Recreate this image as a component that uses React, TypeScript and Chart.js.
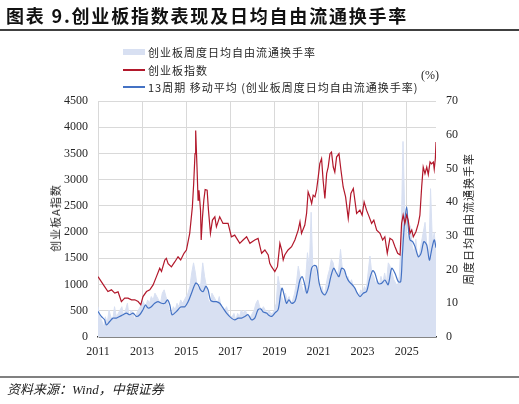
import React, { useEffect, useRef } from 'react';
import { Chart, registerables } from 'chart.js';

Chart.register(...registerables);

const TITLE = '图表 9.创业板指数表现及日均自由流通换手率';
const LEGEND_TURNOVER = '创业板周度日均自由流通换手率';
const LEGEND_INDEX = '创业板指数';
const LEGEND_MA = '13周期 移动平均 (创业板周度日均自由流通换手率)';
const LEFT_TITLE = '创业板A指数';
const RIGHT_TITLE = '周度日均自由流通换手率';
const UNIT = '(%)';
const SOURCE = '资料来源：Wind，中银证券';

const yearTicks = [2011, 2013, 2015, 2017, 2019, 2021, 2023, 2025];
const xMin = 2011;
const xMax = 2026.33;
const leftMax = 4500;
const leftStep = 500;
const rightMax = 70;
const rightStep = 10;

const indexYears = [
  2011.0, 2011.15, 2011.3, 2011.45, 2011.61, 2011.76, 2011.91, 2012.06, 2012.21, 2012.36, 2012.52, 2012.67, 2012.82, 2012.94,
  2013.04, 2013.2, 2013.35, 2013.5, 2013.65, 2013.8, 2013.88, 2014.03, 2014.1, 2014.18, 2014.33, 2014.48, 2014.63, 2014.75, 2014.9,
  2015.01, 2015.16, 2015.28, 2015.34, 2015.4, 2015.43, 2015.49, 2015.54, 2015.58, 2015.65, 2015.68, 2015.74, 2015.8, 2015.86, 2015.95,
  2016.01, 2016.1, 2016.19, 2016.3, 2016.37, 2016.52, 2016.67, 2016.9, 2017.05, 2017.2, 2017.43, 2017.58, 2017.74, 2017.89,
  2018.11, 2018.26, 2018.42, 2018.57, 2018.72, 2018.79, 2018.87, 2019.02, 2019.14, 2019.25, 2019.33, 2019.4, 2019.47, 2019.62, 2019.78, 2019.93,
  2020.08, 2020.16, 2020.23, 2020.38, 2020.46, 2020.53, 2020.61, 2020.69, 2020.76, 2020.84, 2020.91, 2020.99,
  2021.06, 2021.14, 2021.21, 2021.29, 2021.37, 2021.44, 2021.52, 2021.59, 2021.67, 2021.74, 2021.82, 2021.93,
  2022.02, 2022.12, 2022.23, 2022.35, 2022.47, 2022.58, 2022.73, 2022.88, 2022.98,
  2023.07, 2023.18, 2023.3, 2023.41, 2023.51, 2023.64, 2023.79, 2023.91,
  2024.01, 2024.12, 2024.24, 2024.36, 2024.47, 2024.59, 2024.7, 2024.77, 2024.84, 2024.92,
  2025.0, 2025.07, 2025.15, 2025.23, 2025.3, 2025.42, 2025.53, 2025.6, 2025.68, 2025.75, 2025.83, 2025.91, 2025.98,
  2026.06, 2026.13, 2026.21, 2026.25, 2026.3, 2026.33,
];
const indexValues = [
  1151, 1056, 961, 866, 899, 836, 860, 676, 741, 740, 709, 709, 676, 614,
  771, 866, 899, 994, 1151, 1311, 1250, 1469, 1500, 1400, 1337, 1431, 1530, 1469, 1596,
  1659, 1976, 2481, 2926, 3496, 3939, 3241, 2609, 2799, 2419, 1849, 2291, 2609, 2812, 2799,
  2419, 1976, 2229, 2291, 2101, 2291, 2166, 2166, 1911, 1943, 1786, 1849, 1911, 1786,
  1849, 1880, 1596, 1659, 1564, 1406, 1341, 1246, 1341, 1786, 1659, 1469, 1564, 1659, 1722, 1849,
  2039, 2197, 1976, 2134, 2356, 2767, 2672, 2546, 2704, 2672, 2799, 3052,
  3306, 3401, 2989, 2641, 3116, 3241, 3496, 3526, 3241, 3146, 3431, 3496,
  3179, 2861, 2671, 2261, 2736, 2831, 2356, 2419, 2324,
  2576, 2419, 2291, 2166, 2229, 2039, 1976, 1849,
  1911, 1596, 1881, 1849, 1722, 1596, 1564, 2166, 2324, 2166,
  2324, 2229, 1976, 2039, 1911, 2008, 2166, 2324, 2861, 3241, 3116, 3241, 3100,
  3336, 3300, 3336, 3200, 3400, 3716,
];

const maYears = [
  2011.0, 2011.15, 2011.3, 2011.38, 2011.53, 2011.68, 2011.83, 2011.98, 2012.14, 2012.29, 2012.44, 2012.59, 2012.74, 2012.89,
  2013.04, 2013.15, 2013.27, 2013.42, 2013.57, 2013.72, 2013.88, 2014.03, 2014.15, 2014.26, 2014.36, 2014.56, 2014.75, 2014.94,
  2015.09, 2015.24, 2015.43, 2015.54, 2015.65, 2015.77, 2015.89, 2015.99, 2016.1, 2016.22, 2016.37, 2016.52, 2016.67, 2016.83,
  2017.05, 2017.2, 2017.36, 2017.51, 2017.66, 2017.81, 2017.96, 2018.11, 2018.26, 2018.39, 2018.49, 2018.64, 2018.72, 2018.87,
  2019.02, 2019.17, 2019.29, 2019.35, 2019.44, 2019.55, 2019.66, 2019.78, 2019.93,
  2020.05, 2020.16, 2020.26, 2020.38, 2020.47, 2020.56, 2020.69, 2020.8, 2020.91,
  2021.02, 2021.14, 2021.29, 2021.44, 2021.56, 2021.69, 2021.82, 2021.93,
  2022.05, 2022.17, 2022.27, 2022.39, 2022.53, 2022.65, 2022.76, 2022.88,
  2023.03, 2023.18, 2023.33, 2023.46, 2023.56, 2023.71, 2023.86,
  2024.01, 2024.16, 2024.32, 2024.47, 2024.62, 2024.73, 2024.8, 2024.89,
  2025.0, 2025.07, 2025.15, 2025.27, 2025.38, 2025.53, 2025.65, 2025.78, 2025.91,
  2026.03, 2026.13, 2026.25, 2026.33,
];
const maValues = [
  7.6, 6.1, 5.1, 3.6, 4.6, 5.6, 5.6, 6.1, 6.6, 7.1, 6.6, 7.1, 6.1, 6.6,
  8.1, 9.5, 8.6, 9.0, 10.0, 10.5, 10.0, 10.0, 11.0, 9.5, 6.6, 7.6, 8.9, 9.0,
  10.5, 13.0, 16.0, 15.5, 14.0, 13.5, 15.0, 14.0, 11.0, 10.5, 10.5, 10.0, 8.6, 7.1,
  5.6, 5.1, 5.6, 5.6, 6.1, 6.6, 5.1, 5.6, 8.1, 8.3, 7.4, 7.1, 6.6, 6.1,
  7.1, 8.1, 13.0, 14.5, 12.5, 10.0, 11.0, 10.0, 10.5,
  13.5, 16.9, 17.9, 15.5, 13.0, 15.0, 20.4, 21.2, 20.9,
  16.4, 13.5, 12.5, 14.5, 17.9, 20.4, 18.9, 17.9,
  20.4, 19.9, 17.9, 16.4, 15.5, 14.5, 13.0, 12.0,
  13.0, 13.5, 17.4, 19.7, 18.9, 15.9, 15.9,
  16.9, 15.5, 20.4, 18.9, 16.4, 16.4, 23.8, 32.7,
  38.6, 32.7, 28.8, 28.3, 26.8, 23.8, 24.8, 28.3, 27.3,
  22.8, 25.8, 28.8, 26.5,
];

// monthly readings of the weekly turnover, starting Jan 2011
const turnoverStart = 2011;
const turnoverValues = [
  9, 6, 5, 3, 6, 4, 8, 6, 5, 9, 6, 7,
  8, 9, 6, 8, 10, 6, 8, 7, 5, 7, 8, 9,
  11, 10, 9, 11, 10, 12, 11, 13, 12, 11, 10, 13,
  14, 12, 10, 7, 7, 9, 8, 10, 9, 11, 10, 11,
  12, 13, 15, 19, 22, 19, 15, 14, 16, 22, 18, 15,
  11, 10, 13, 12, 11, 10, 12, 9, 9, 8, 9, 7,
  6, 6, 7, 5, 7, 6, 8, 7, 8, 7, 6, 6,
  7, 8, 10, 11, 9, 8, 9, 8, 7, 8, 7, 7,
  8, 10, 18, 15, 12, 10, 13, 11, 12, 10, 11, 13,
  16, 21, 18, 15, 13, 17, 25, 20, 37, 19, 21, 18,
  15, 13, 15, 12, 15, 18, 20, 23, 22, 19, 18, 20,
  26, 20, 19, 17, 18, 16, 17, 15, 14, 13, 12, 14,
  13, 15, 14, 19, 24, 19, 18, 16, 17, 15, 18, 16,
  19, 16, 22, 21, 19, 17, 16, 15, 18, 30, 58, 36,
  28, 31, 33, 27, 25, 29, 23, 25, 28, 31, 34, 27,
  23, 44, 28, 31, 25,
];

const RED = '#b2182b';
const BLUE = '#4472c4';
const AREA = '#d8e0f2';
const GRID = '#d9d9d9';
const TEXT = '#262626';
const CJK = '"Noto Sans CJK SC", sans-serif';
const SERIF = '"Liberation Serif", "Noto Sans CJK SC", serif';

export default function App() {
  const canvasRef = useRef<HTMLCanvasElement | null>(null);

  useEffect(() => {
    document.body.style.margin = '0';
    const canvas = canvasRef.current;
    if (!canvas) return;
    const tickFont = { family: '"Liberation Serif", serif', size: 12 };
    const chart = new Chart(canvas, {
      type: 'line',
      data: {
        datasets: [
          {
            label: LEGEND_INDEX,
            data: indexYears.map((x, i) => ({ x, y: indexValues[i] })),
            borderColor: RED,
            borderWidth: 1.2,
            pointRadius: 0,
            fill: false,
            yAxisID: 'y',
          },
          {
            label: LEGEND_MA,
            data: maYears.map((x, i) => ({ x, y: maValues[i] })),
            borderColor: BLUE,
            borderWidth: 1.2,
            pointRadius: 0,
            fill: false,
            tension: 0.3,
            yAxisID: 'y1',
          },
          {
            label: LEGEND_TURNOVER,
            data: turnoverValues.map((y, i) => ({ x: turnoverStart + i / 12, y })),
            borderColor: AREA,
            backgroundColor: AREA,
            borderWidth: 1,
            pointRadius: 0,
            fill: 'origin',
            yAxisID: 'y1',
          },
        ],
      },
      options: {
        animation: false,
        responsive: false,
        layout: { padding: { top: 101, left: 0, right: 0, bottom: 0 } },
        plugins: { legend: { display: false }, tooltip: { enabled: false } },
        scales: {
          x: {
            type: 'linear',
            min: xMin,
            max: xMax,
            afterBuildTicks: (axis: any) => {
              axis.ticks = yearTicks.map((v) => ({ value: v }));
            },
            afterFit: (axis: any) => {
              axis.height = 67;
            },
            ticks: {
              autoSkip: false,
              maxRotation: 0,
              padding: 12,
              color: TEXT,
              font: tickFont,
              callback: (v: any) => String(v),
            },
            grid: { color: GRID, tickColor: '#333', tickLength: -4, drawTicks: true, lineWidth: 1 },
            border: { color: '#333', width: 1.5 },
          },
          y: {
            position: 'left',
            min: 0,
            max: leftMax,
            afterFit: (axis: any) => {
              axis.width = 98;
            },
            ticks: { stepSize: leftStep, padding: 10, color: TEXT, font: tickFont, callback: (v: any) => String(v) },
            grid: { color: GRID, drawTicks: false },
            border: { color: GRID },
          },
          y1: {
            position: 'right',
            min: 0,
            max: rightMax,
            afterFit: (axis: any) => {
              axis.width = 83;
            },
            ticks: { stepSize: rightStep, padding: 10, color: TEXT, font: tickFont, callback: (v: any) => String(v) },
            grid: { display: false, drawTicks: false },
            border: { display: false },
          },
        },
      },
    } as any);
    return () => chart.destroy();
  }, []);

  const abs = (s: React.CSSProperties): React.CSSProperties => ({ position: 'absolute', ...s });
  const legendText: React.CSSProperties = {
    fontFamily: CJK,
    fontSize: 11,
    color: TEXT,
    lineHeight: '14px',
    whiteSpace: 'nowrap',
    letterSpacing: 1,
  };

  return (
    <div style={{ position: 'relative', width: 519, height: 404, background: '#fff', overflow: 'hidden' }}>
      <canvas ref={canvasRef} width={519} height={404} style={{ position: 'absolute', left: 0, top: 0 }} />
      <div
        style={abs({
          left: 6,
          top: 3,
          fontFamily: CJK,
          fontWeight: 700,
          fontSize: 18,
          lineHeight: '24px',
          letterSpacing: 1.8,
          color: '#111',
          whiteSpace: 'nowrap',
        })}
      >
        {TITLE}
      </div>
      <div style={abs({ left: 0, top: 29, width: 519, height: 2, background: '#404040' })} />

      <div style={abs({ left: 123, top: 49, width: 22, height: 6, background: AREA })} />
      <div style={abs({ ...legendText, left: 148, top: 45 })}>{LEGEND_TURNOVER}</div>
      <div style={abs({ left: 123, top: 69, width: 22, height: 1.5, background: RED })} />
      <div style={abs({ ...legendText, left: 148, top: 63 })}>{LEGEND_INDEX}</div>
      <div style={abs({ left: 123, top: 86, width: 22, height: 1.5, background: BLUE })} />
      <div style={abs({ ...legendText, left: 148, top: 80 })}>{LEGEND_MA}</div>

      <div style={abs({ left: 421, top: 67, fontFamily: SERIF, fontSize: 12, color: TEXT, lineHeight: '16px' })}>{UNIT}</div>

      <div
        style={abs({
          left: 55,
          top: 218,
          transform: 'translate(-50%, -50%) rotate(-90deg)',
          fontFamily: CJK,
          fontSize: 11,
          letterSpacing: 1,
          color: TEXT,
          whiteSpace: 'nowrap',
        })}
      >
        {LEFT_TITLE}
      </div>
      <div
        style={abs({
          left: 468,
          top: 219,
          transform: 'translate(-50%, -50%) rotate(-90deg)',
          fontFamily: CJK,
          fontSize: 11,
          letterSpacing: 1,
          color: TEXT,
          whiteSpace: 'nowrap',
        })}
      >
        {RIGHT_TITLE}
      </div>

      <div style={abs({ left: 0, top: 376, width: 519, height: 2, background: '#808080' })} />
      <div
        style={abs({
          left: 7,
          top: 381,
          fontFamily: SERIF,
          fontStyle: 'italic',
          fontSize: 13,
          lineHeight: '18px',
          color: '#222',
          whiteSpace: 'nowrap',
        })}
      >
        {SOURCE}
      </div>
    </div>
  );
}
